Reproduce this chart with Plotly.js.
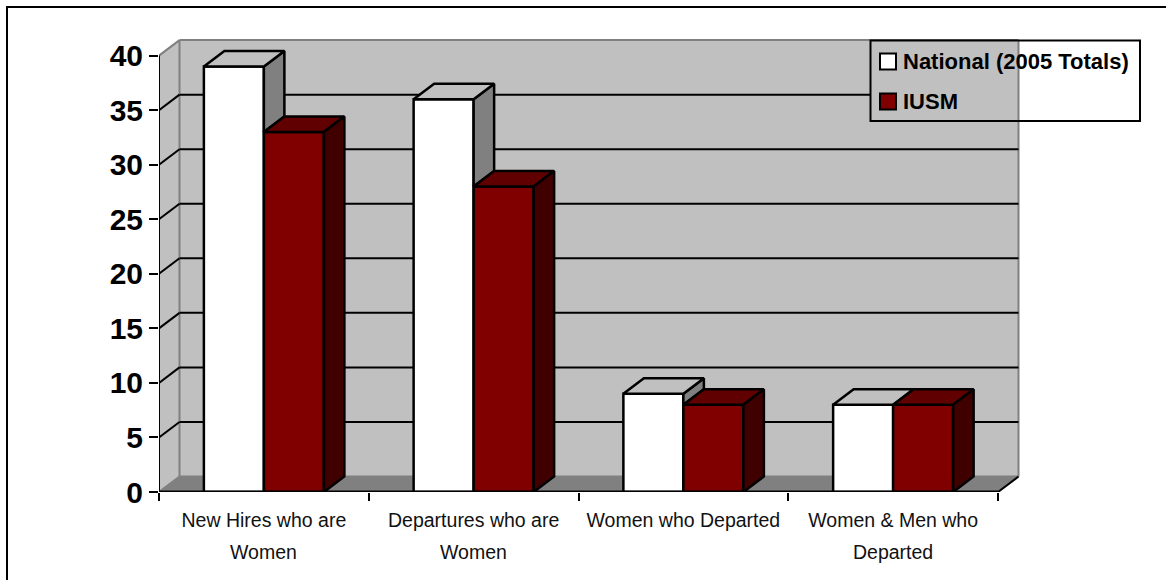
<!DOCTYPE html>
<html>
<head>
<meta charset="utf-8">
<script src="https://cdn.plot.ly/plotly-3.0.1.min.js"></script>
<style>html,body{margin:0;padding:0;background:#fff}#chart{width:1166px;height:580px}</style>
</head>
<body>
<div id="chart"></div>
<script>
// Share of women among faculty movements, national totals against IUSM
const categoryFirstLines = ['New Hires who are', 'Departures who are', 'Women who Departed', 'Women & Men who'];
const categorySecondLines = ['Women', 'Women', '', 'Departed'];
const seriesNames = ['National (2005 Totals)', 'IUSM'];
const national = [39, 36, 9, 8];
const iusm = [33, 28, 8, 8];
const yTicks = [0, 5, 10, 15, 20, 25, 30, 35, 40];

// Plot frame in pixels
const W = 1166, H = 580;
const plotLeft = 159, plotBottom = 492, plotTop = 30, plotRight = 1030;
const pxPerCat = 209.75, pxPerUnit = 10.91;

// Pseudo-3D depth of the box, in axis units
const dx = 20.5 / pxPerCat;
const dy = 15.5 / pxPerUnit;

// Bar layout inside each category
const barW = 60 / pxPerCat;
const catCentres = categoryFirstLines.map((_, i) => i + 0.5);
const yMax = yTicks[yTicks.length - 1];
const nCat = categoryFirstLines.length;
const OUTLINE = 2.5;

const WALL = '#C0C0C0', EDGE = '#808080', FLOOR = '#808080';
const RED = '#800000', RED_TOP = '#600000', RED_SIDE = '#400000';
const WHITE_TOP = '#C0C0C0', WHITE_SIDE = '#808080';
const SANS = '"Liberation Sans", Arial, sans-serif';

const px2x = p => (p - plotLeft) / (plotRight - plotLeft);
const px2y = p => (plotBottom - p) / (plotBottom - plotTop);

function poly(xs, ys, fill, lineColor, lineWidth) {
  return {
    type: 'scatter', mode: 'lines', x: xs, y: ys, fill: 'toself', fillcolor: fill,
    line: {color: lineColor, width: lineWidth, shape: 'linear'},
    hoverinfo: 'skip', showlegend: false, cliponaxis: false
  };
}

function line(xs, ys, color, width) {
  return {
    type: 'scatter', mode: 'lines', x: xs, y: ys,
    line: {color: color, width: width},
    hoverinfo: 'skip', showlegend: false, cliponaxis: false
  };
}

function pathOf(xs, ys) {
  return 'M' + xs.map((x, i) => x + ',' + ys[i]).join('L') + 'Z';
}

// Walls, floor and gridlines sit beneath the bars
const shapes = [];
shapes.push({type: 'path', layer: 'below', xref: 'x', yref: 'y',
  path: pathOf([dx, nCat + dx, nCat + dx, dx], [dy, dy, yMax + dy, yMax + dy]),
  fillcolor: WALL, line: {width: 0}});
shapes.push({type: 'path', layer: 'below', xref: 'x', yref: 'y',
  path: pathOf([0, dx, dx, 0], [0, dy, yMax + dy, yMax]),
  fillcolor: WALL, line: {width: 0}});
shapes.push({type: 'path', layer: 'below', xref: 'x', yref: 'y',
  path: pathOf([0, nCat, nCat + dx, dx], [0, 0, dy, dy]),
  fillcolor: FLOOR, line: {width: 0}});

// Wall edges
[[[dx, dx], [dy, yMax + dy]], [[0, dx], [yMax, yMax + dy]], [[dx, nCat + dx], [yMax + dy, yMax + dy]],
 [[nCat + dx, nCat + dx], [dy, yMax + dy]], [[dx, nCat + dx], [dy, dy]], [[0, dx], [0, dy]]].forEach(e => {
  shapes.push({type: 'line', layer: 'below', xref: 'x', yref: 'y',
    x0: e[0][0], x1: e[0][1], y0: e[1][0], y1: e[1][1], line: {color: EDGE, width: 2}});
});

// Gridlines run up the side wall and across the back; the legend box interrupts the upper one
const legendBox = {x0: 870.5, x1: 1140, y0: 40.5, y1: 121};
yTicks.filter(v => v > 0 && v < yMax).forEach(v => {
  const backPx = plotBottom - (v + dy) * pxPerUnit;
  const underLegend = backPx > legendBox.y0 && backPx < legendBox.y1;
  const xEnd = underLegend ? (legendBox.x0 - plotLeft) / pxPerCat : nCat + dx;
  shapes.push({type: 'line', layer: 'below', xref: 'x', yref: 'y',
    x0: 0, x1: dx, y0: v, y1: v + dy, line: {color: '#000', width: 2}});
  shapes.push({type: 'line', layer: 'below', xref: 'x', yref: 'y',
    x0: dx, x1: xEnd, y0: v + dy, y1: v + dy, line: {color: '#000', width: 2}});
});

// Outer frame: only the top and left rules are present
shapes.push({type: 'line', xref: 'paper', yref: 'paper',
  x0: px2x(7), x1: px2x(W), y0: px2y(7), y1: px2y(7), line: {color: '#000', width: 2}});
shapes.push({type: 'line', xref: 'paper', yref: 'paper',
  x0: px2x(7), x1: px2x(7), y0: px2y(6), y1: px2y(H), line: {color: '#000', width: 2}});

// Legend frame and swatches
shapes.push({type: 'rect', xref: 'paper', yref: 'paper',
  x0: px2x(legendBox.x0), x1: px2x(legendBox.x1), y0: px2y(legendBox.y0), y1: px2y(legendBox.y1),
  fillcolor: 'rgba(0,0,0,0)', line: {color: '#000', width: 2}});
const legendRows = [61.5, 101.5];
['#FFFFFF', RED].forEach((c, i) => {
  shapes.push({type: 'rect', xref: 'paper', yref: 'paper',
    x0: px2x(880), x1: px2x(896), y0: px2y(legendRows[i] - 8), y1: px2y(legendRows[i] + 8),
    fillcolor: c, line: {color: '#000', width: 2}});
});
const annotations = seriesNames.map((name, i) => ({
  xref: 'paper', yref: 'paper', x: px2x(902), y: px2y(legendRows[i]),
  xanchor: 'left', yanchor: 'middle', showarrow: false, text: '<b>' + name + '</b>', align: 'left',
  borderpad: 0,
  font: {family: SANS, size: 22, color: '#000'}
}));

// Wrapped category labels sit on a wider line pitch than a <br> would give
categorySecondLines.forEach((text, i) => {
  if (!text) return;
  annotations.push({
    xref: 'x', yref: 'paper', x: catCentres[i], y: px2y(551.5),
    xanchor: 'center', yanchor: 'middle', showarrow: false, text: text,
    borderpad: 0, font: {family: SANS, size: 19.5, color: '#111'}
  });
});

// Front faces are real bars
const bars = [national, iusm].map((vals, s) => ({
  type: 'bar', name: seriesNames[s], x: catCentres, y: vals, width: barW,
  offset: s === 0 ? -barW : 0,
  marker: {color: s === 0 ? '#FFFFFF' : RED, line: {color: '#000', width: OUTLINE}},
  hoverinfo: 'x+y', showlegend: false
}));

// Side and top faces follow each bar's value; the white side stops at the red bar in front of it
const faces = [];
catCentres.forEach((c, i) => {
  const wL = c - barW, wR = c, rR = c + barW;
  const n = national[i], m = iusm[i];
  if (n > m) {
    faces.push(poly([wR, wR + dx, wR + dx, wR, wR], [n, n + dy, m + dy, m, n], WHITE_SIDE, '#000', OUTLINE));
  }
  faces.push(poly([wL, wL + dx, wR + dx, wR, wL], [n, n + dy, n + dy, n, n], WHITE_TOP, '#000', OUTLINE));
  faces.push(poly([wR, wR + dx, rR + dx, rR, wR], [m, m + dy, m + dy, m, m], RED_TOP, '#000', OUTLINE));
  faces.push(poly([rR, rR + dx, rR + dx, rR, rR], [m, m + dy, dy, 0, m], RED_SIDE, '#000', OUTLINE));
});

// Front axis lines end at the box, not at the plot edge
const axes = [
  line([0, nCat], [0, 0], '#000', 3),
  line([0, 0], [0, yMax], '#000', 2),
  line([nCat, nCat + dx], [0, dy], '#000', 2)
];

const layout = {
  width: W, height: H,
  margin: {l: plotLeft, r: W - plotRight, t: plotTop, b: H - plotBottom, pad: 0},
  paper_bgcolor: '#fff', plot_bgcolor: 'rgba(0,0,0,0)',
  showlegend: false, barmode: 'overlay',
  xaxis: {
    type: 'linear', range: [0, (plotRight - plotLeft) / pxPerCat], fixedrange: true,
    tickmode: 'array', tickvals: catCentres, ticktext: categoryFirstLines, ticks: '',
    tickfont: {family: SANS, size: 19.5, color: '#111'},
    showgrid: false, zeroline: false, showline: false,
    ticklabelstandoff: 14,
    minor: {tickmode: 'array', tickvals: [0, 1, 2, 3, 4], ticks: 'outside', ticklen: 8, tickwidth: 2, tickcolor: '#000', showgrid: false}
  },
  yaxis: {
    type: 'linear', range: [0, (plotBottom - plotTop) / pxPerUnit], fixedrange: true,
    tickmode: 'array', tickvals: yTicks, ticktext: yTicks.map(String),
    ticks: 'outside', ticklen: 9, tickwidth: 2, tickcolor: '#000',
    tickfont: {family: SANS, size: 30, color: '#000', weight: 'bold'},
    showgrid: false, zeroline: false, showline: false
  },
  shapes: shapes, annotations: annotations
};

Plotly.newPlot('chart', bars.concat(faces, axes), layout, {displayModeBar: false, staticPlot: true});
</script>
</body>
</html>
